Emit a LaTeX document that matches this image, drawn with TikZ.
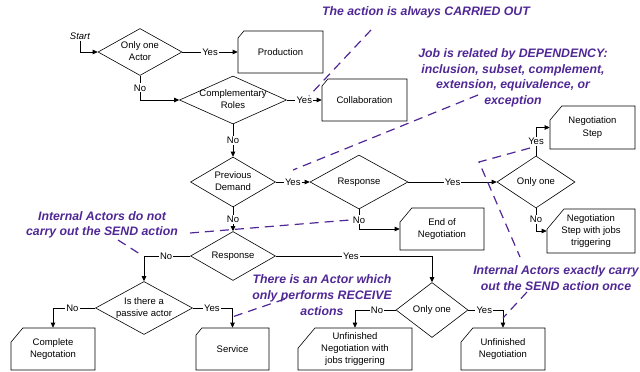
\documentclass[tikz,border=0pt]{standalone}
\usepackage{fontspec}
\setmainfont{Liberation Sans}
\usepackage{tikz}
\usetikzlibrary{arrows.meta,shapes.geometric,shapes.misc}
\definecolor{hint}{HTML}{502896}
\newcommand{\flowfont}{\fontsize{9.5}{12.3}\selectfont}
\newcommand{\hintfont}{\fontsize{12.3}{15.6}\selectfont\bfseries\itshape}
% text of a decision, kept from widening the diamond
\newcommand{\dtext}[1]{\makebox[0pt]{\begin{tabular}{@{}c@{}}#1\end{tabular}}}
\tikzset{
  dec/.style 2 args={diamond,draw,line width=0.6pt,inner sep=0pt,minimum width=#1pt,minimum height=#2pt,font=\flowfont},
  card/.style={chamfered rectangle,chamfered rectangle corners=north west,chamfered rectangle xsep=14pt,
    chamfered rectangle angle=40,draw,line width=0.6pt,inner sep=0pt,minimum width=#1pt,minimum height=42pt,
    align=center,font=\flowfont},
  flow/.style={draw,line width=0.6pt,-{Triangle[length=5pt,width=4.5pt]}},
  yn/.style={fill=white,inner sep=1.2pt,font=\flowfont},
  remark/.style={text=hint,align=center,inner sep=0pt,font=\hintfont},
  remarkline/.style={draw=hint,line width=1.2pt,dash pattern=on 9pt off 6pt},
}

\begin{document}
\begin{tikzpicture}[x=1pt,y=-1pt]
  \useasboundingbox (0,0) rectangle (640,372);

  % decisions and outcomes
  \node[font=\flowfont\itshape,inner sep=1pt] (start) at (80,36) {Start};
  \node[dec={84}{47}] (actor) at (140,52) {\dtext{Only one\\Actor}};
  \node[card=85] (prod) at (280.5,52) {Production};
  \node[dec={107}{48}] (roles) at (233,100) {\dtext{Complementary\\Roles}};
  \node[card=85] (collab) at (364.5,100) {Collaboration};
  \node[dec={85}{50}] (demand) at (233,182) {\dtext{Previous\\Demand}};
  \node[dec={98}{54}] (resp1) at (359,182) {\dtext{Response}};
  \node[dec={78}{52}] (only1) at (536,182) {\dtext{Only one}};
  \node[card=85,minimum height=43pt] (step) at (592.5,127.5) {Negotiation\\Step};
  \node[card=88,minimum height=44pt] (stepjobs) at (591,231) {Negotiation\\Step with jobs\\triggering};
  \node[card=84] (end) at (442,229) {End of\\Negotiation};
  \node[dec={85}{49}] (resp2) at (233,256) {\dtext{Response}};
  \node[dec={97}{53}] (passive) at (144,308) {\dtext{Is there a\\passive actor}};
  \node[card=84] (complete) at (53,349) {Complete\\Negotation};
  \node[card=73] (service) at (232.5,349) {Service};
  \node[dec={72}{55}] (only2) at (432,310) {\dtext{Only one}};
  \node[card=114] (unfjobs) at (355,349) {Unfinished\\Negotiation with\\jobs triggering};
  \node[card=84] (unf) at (503,349) {Unfinished\\Negotiation};

  % flow
  \draw[flow] (start.south) |- (actor.west);
  \draw[flow] (actor.east) -- node[yn]{Yes} (prod.west);
  \draw[flow] (actor.south) |- node[yn,pos=0.25]{No} (roles.west);
  \draw[flow] (roles.east) -- node[yn]{Yes} (collab.west);
  \draw[flow] (roles.south) -- node[yn]{No} (demand.north);
  \draw[flow] (demand.east) -- node[yn]{Yes} (resp1.west);
  \draw[flow] (resp1.east) -- node[yn]{Yes} (only1.west);
  \draw[flow] (only1.north) |- node[yn,pos=0.25]{Yes} (step.west);
  \draw[flow] (only1.south) |- node[yn,pos=0.24]{No} (stepjobs.west);
  \draw[flow] (resp1.south) |- node[yn,pos=0.27]{No} (end.west);
  \draw[flow] (demand.south) -- node[yn]{No} (resp2.north);
  \draw[flow] (resp2.west) -| node[yn,pos=0.26]{No} (passive.north);
  \draw[flow] (resp2.east) -| node[yn,pos=0.24]{Yes} (only2.north);
  \draw[flow] (passive.west) -| node[yn,pos=0.27]{No} (complete.north);
  \draw[flow] (passive.east) -| node[yn,pos=0.24]{Yes} (service.north);
  \draw[flow] (only2.west) -| node[yn,pos=0.23]{No} (unfjobs.north);
  \draw[flow] (only2.east) -| node[yn,pos=0.23]{Yes} (unf.north);

  % remarks
  \node[remark] (always) at (426,12) {The action is always CARRIED OUT};
  \node[remark] (depend) at (513,78) {Job is related by DEPENDENCY:\\inclusion, subset, complement,\\extension, equivalence, or\\exception};
  \node[remark] (nosend) at (102,225) {Internal Actors do not\\carry out the SEND action};
  \node[remark] (receive) at (322,295) {There is an Actor which\\only performs RECEIVE\\actions};
  \node[remark] (oncesend) at (556,278) {Internal Actors exactly carry\\out the SEND action once};

  \coordinate (always1) at (371,30);
  \coordinate (always2) at (309,96);
  \coordinate (depend1) at (478,95);
  \coordinate (depend2) at (293,170);
  \coordinate (nosend1) at (190,233);
  \coordinate (nosend2) at (350,220);
  \coordinate (nosend3) at (118,240);
  \coordinate (nosend4) at (143,256);
  \coordinate (receive1) at (285,299);
  \coordinate (receive2) at (232,317);
  \coordinate (once1) at (530,148);
  \coordinate (once2) at (479,162);
  \coordinate (once3) at (520,257);
  \coordinate (once4) at (527,292);
  \coordinate (once5) at (503,318);

  \draw[remarkline] (always1) -- (always2);
  \draw[remarkline] (depend1) -- (depend2);
  \draw[remarkline] (nosend1) -- (nosend2);
  \draw[remarkline] (nosend3) -- (nosend4);
  \draw[remarkline] (receive1) -- (receive2);
  \draw[remarkline] (once1) -- (once2) -- (once3);
  \draw[remarkline] (once4) -- (once5);
\end{tikzpicture}
\end{document}
